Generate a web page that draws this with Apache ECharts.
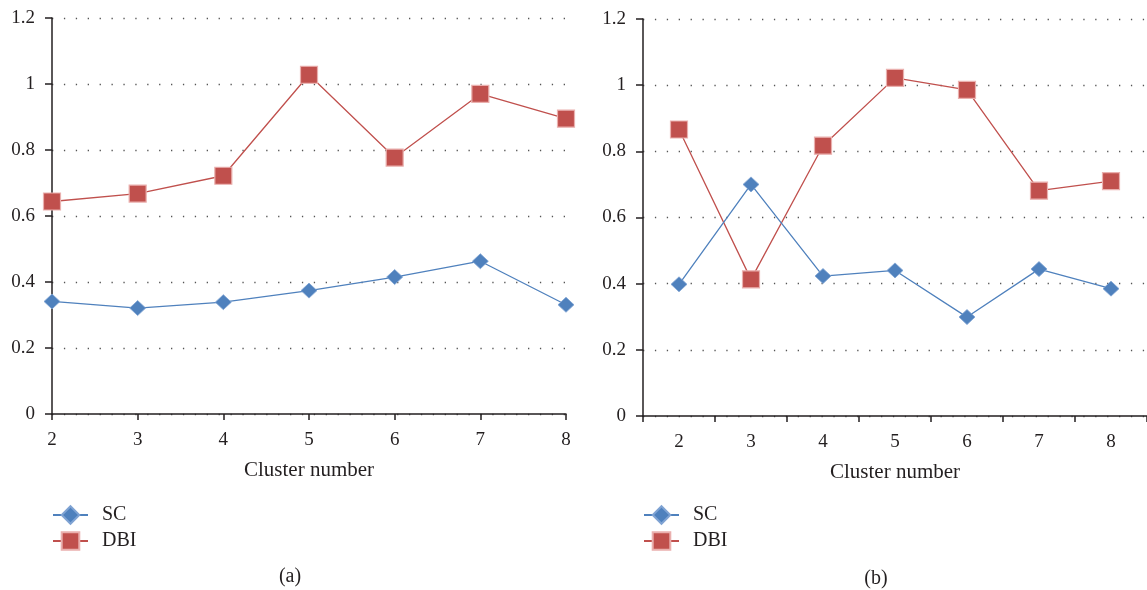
<!DOCTYPE html>
<html>
<head>
<meta charset="utf-8">
<script src="https://cdn.jsdelivr.net/npm/echarts@6/dist/echarts.min.js"></script>
<style>html,body{margin:0;padding:0;background:#fff;}#c{width:1147px;height:590px;}</style>
</head>
<body>
<div id="c"></div>
<script>
var categories = ['2', '3', '4', '5', '6', '7', '8'];
var scA = [0.341, 0.321, 0.339, 0.374, 0.415, 0.463, 0.331];
var dbiA = [0.644, 0.668, 0.722, 1.028, 0.777, 0.970, 0.895];
var scB = [0.398, 0.700, 0.423, 0.440, 0.299, 0.444, 0.385];
var dbiB = [0.866, 0.413, 0.817, 1.022, 0.986, 0.681, 0.710];
var yTicks = { min: 0, max: 1.2, interval: 0.2 };
var axisTitle = 'Cluster number';
var panelLabels = ['(a)', '(b)'];

var FONT = 'Liberation Serif';
var TXT = '#231f20';
var BLUE = '#4f81bd';
var RED = '#c0504d';

function xAxis(idx, gap) {
  return {
    type: 'category', gridIndex: idx, data: categories, boundaryGap: gap,
    name: axisTitle, nameLocation: 'middle', nameGap: 46,
    nameTextStyle: { fontFamily: FONT, fontSize: 21, color: TXT },
    axisLine: { lineStyle: { color: '#231f20', width: 1.5 } },
    axisTick: { show: true, length: 6, alignWithLabel: false, lineStyle: { color: '#231f20', width: 1.5 } },
    axisLabel: { fontFamily: FONT, fontSize: 19, color: TXT, margin: 17 },
    splitLine: { show: false }
  };
}
function yAxis(idx) {
  return {
    type: 'value', gridIndex: idx, min: yTicks.min, max: yTicks.max, interval: yTicks.interval,
    axisLine: { show: true, lineStyle: { color: '#231f20', width: 1.5 } },
    axisTick: { show: true, length: 7, lineStyle: { color: '#231f20', width: 1.5 } },
    axisLabel: { fontFamily: FONT, fontSize: 19, color: TXT, margin: 17 },
    splitLine: { show: true, lineStyle: { color: '#555', width: 1.3, type: [1.3, 10.6] } }
  };
}
function sc(idx, data) {
  return {
    name: 'SC', type: 'line', xAxisIndex: idx, yAxisIndex: idx, data: data,
    symbol: 'diamond', symbolSize: [16, 15], showAllSymbol: true,
    lineStyle: { color: BLUE, width: 1.3 },
    itemStyle: { color: BLUE, borderColor: '#7fa3d3', borderWidth: 0.8 },
    z: 3
  };
}
function dbi(idx, data) {
  return {
    name: 'DBI', type: 'line', xAxisIndex: idx, yAxisIndex: idx, data: data,
    symbol: 'rect', symbolSize: 17, showAllSymbol: true,
    lineStyle: { color: RED, width: 1.3 },
    itemStyle: { color: RED, borderColor: '#eab0ae', borderWidth: 1.2 },
    z: 2
  };
}
function legend(left) {
  return {
    orient: 'vertical', left: left, top: 500, itemWidth: 35, itemHeight: 22, itemGap: 6,
    textStyle: { fontFamily: FONT, fontSize: 20, color: TXT, padding: [0, 0, 0, 9] },
    data: ['SC', 'DBI'], selectedMode: false
  };
}

var chart = echarts.init(document.getElementById('c'), null, { renderer: 'canvas' });
chart.setOption({
  animation: false,
  backgroundColor: '#fff',
  title: [
    { text: panelLabels[0], left: 285, top: 562, textAlign: 'center', textStyle: { fontFamily: FONT, fontSize: 20, fontWeight: 'normal', color: TXT } },
    { text: panelLabels[1], left: 871, top: 564, textAlign: 'center', textStyle: { fontFamily: FONT, fontSize: 20, fontWeight: 'normal', color: TXT } }
  ],
  legend: [legend(47), legend(638)],
  grid: [
    { left: 52, right: 581, top: 18, bottom: 176 },
    { left: 643, right: -4, top: 19, bottom: 174 }
  ],
  xAxis: [xAxis(0, false), xAxis(1, true)],
  yAxis: [yAxis(0), yAxis(1)],
  series: [sc(0, scA), dbi(0, dbiA), sc(1, scB), dbi(1, dbiB)]
});
</script>
</body>
</html>
